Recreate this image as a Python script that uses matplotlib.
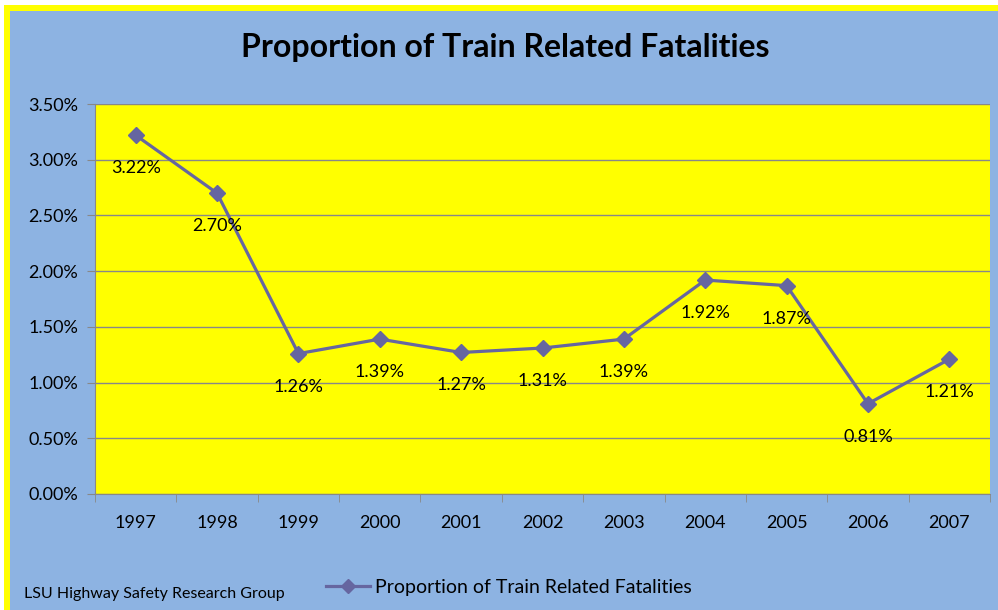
import matplotlib.pyplot as plt
from matplotlib.patches import Rectangle
from matplotlib.lines import Line2D
from matplotlib.ticker import FixedLocator, FuncFormatter

years = ['1997', '1998', '1999', '2000', '2001', '2002', '2003', '2004', '2005', '2006', '2007']
proportion = [3.22, 2.70, 1.26, 1.39, 1.27, 1.31, 1.39, 1.92, 1.87, 0.81, 1.21]
y_ticks = [0.0, 0.5, 1.0, 1.5, 2.0, 2.5, 3.0, 3.5]

title = 'Proportion of Train Related Fatalities'
series_name = 'Proportion of Train Related Fatalities'
credit = 'LSU Highway Safety Research Group'

blue = '#8DB3E2'
yellow = '#FFFF00'
line_color = '#6666A0'

plt.rcParams['font.family'] = ['Lato', 'DejaVu Sans']

fig = plt.figure(figsize=(9.98, 6.10), dpi=100, facecolor='white')

# outer frame: yellow border then blue chart area
fig.patches.append(Rectangle((4 / 998, 0), 1 - 4 / 998, 1 - 5 / 610, transform=fig.transFigure,
                             facecolor=yellow, edgecolor='none', zorder=-10))
fig.patches.append(Rectangle((10 / 998, 0), 1 - 10 / 998, 1 - 11 / 610, transform=fig.transFigure,
                             facecolor=blue, edgecolor='none', zorder=-9))

ax = fig.add_axes([95 / 998, 1 - 494 / 610, (990 - 95) / 998, (494 - 104) / 610])
ax.set_facecolor(yellow)

x = range(len(years))
ax.plot(x, proportion, color=line_color, lw=2.3, marker='D', markersize=8,
        markerfacecolor=line_color, markeredgecolor=line_color, zorder=3)

for xi, v in zip(x, proportion):
    ax.annotate(f'{v:.2f}%', (xi, v), xytext=(0, -33), textcoords='offset pixels',
                ha='center', va='center', fontsize=13, color='black')

ax.set_xlim(-0.5, len(years) - 0.5)
ax.set_ylim(0, 3.5)
ax.yaxis.set_major_locator(FixedLocator(y_ticks))
ax.yaxis.set_major_formatter(FuncFormatter(lambda v, p: f'{v:.2f}%'))
ax.set_xticks(list(x))
ax.set_xticklabels(years)
ax.set_xticks([i - 0.5 for i in range(len(years) + 1)], minor=True)
ax.tick_params(axis='x', which='major', length=0, pad=15, labelsize=13)
ax.tick_params(axis='x', which='minor', length=6, color='#888888', direction='out')
ax.tick_params(axis='y', length=6, color='#888888', labelsize=13, pad=6)

ax.grid(axis='y', color='#888888', lw=1)
ax.set_axisbelow(True)
for side in ['top', 'right']:
    ax.spines[side].set_visible(False)
for side in ['left', 'bottom']:
    ax.spines[side].set_color('#888888')

fig.text(505 / 998, 1 - 47 / 610, title, ha='center', va='center', fontsize=23, fontweight='bold')
fig.text(24 / 998, 1 - 594 / 610, credit, ha='left', va='center', fontsize=11.5)

handle = Line2D([], [], color=line_color, lw=2.3, marker='D', markersize=7)
fig.legend([handle], [series_name], loc='center left', bbox_to_anchor=(308 / 998, 1 - 587 / 610),
           frameon=False, fontsize=14, handlelength=2.3, handletextpad=0.25)

fig.savefig('out.png', dpi=100, facecolor=fig.get_facecolor())
